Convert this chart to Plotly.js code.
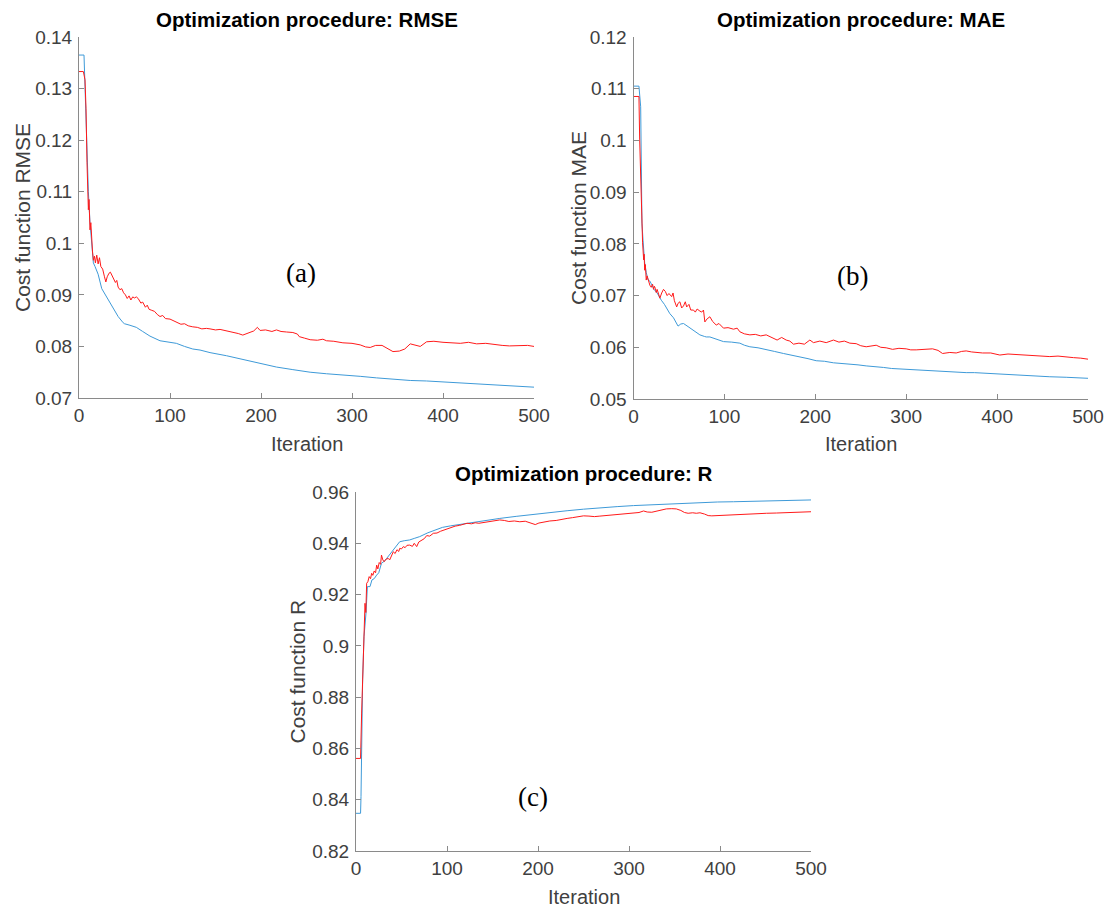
<!DOCTYPE html>
<html>
<head>
<meta charset="utf-8">
<script src="https://cdn.plot.ly/plotly-3.0.1.min.js"></script>
<style>html,body{margin:0;padding:0;background:#fff}#chart{width:1110px;height:908px}</style>
</head>
<body>
<div id="chart"></div>
<script>
// ---------- DATA ----------
// (a) RMSE
const rmseBlueIter = [0,5.5,6.6,7.7,8.8,10.3,12.1,13.9,15.8,17.6,21,25,29,33,38,43,48.5,50,56,63,70,78,89,100,107,116,125,133,144,162,180,199,217,235,254,272,290,309,327,345,364,382,400,419,437,455,477,500];
const rmseBlue = [0.1365,0.1365,0.1304,0.124,0.117,0.110,0.104,0.100,0.0962,0.0955,0.0940,0.0912,0.0900,0.0890,0.0873,0.0858,0.0846,0.0844,0.0841,0.0837,0.0829,0.0820,0.0811,0.0808,0.0806,0.0800,0.0795,0.0793,0.0788,0.0782,0.0775,0.0767,0.0760,0.0755,0.0750,0.0747,0.0745,0.0742,0.0739,0.0736,0.0734,0.0733,0.0731,0.0729,0.0727,0.0725,0.0723,0.0721];
const rmseRedIter = [0,4.8,6.6,7.7,8.8,9.5,10.3,11,11.6,12.1,13,13.9,14.8,15.8,17,18,19.5,21,22.5,24,26,28,29.5,31,33,34.5,36,38,40,41.5,43,45,47,49,51,53,55,57,59,61,63,65,68,70,73,75,77,80,83,86,89,92,95,100,104,107,112,116,120,125,130,135,140,144,150,155,162,170,175,180,186,192,196,199,205,212,217,222,228,235,240,242,248,254,262,268,272,280,290,300,309,315,320,326,333,338,345,352,358,364,370,375,382,390,400,410,419,428,437,447,455,465,473,485,493,500];
const rmseRed = [0.1333,0.1333,0.1317,0.1262,0.1156,0.112,0.1065,0.1085,0.1040,0.1026,0.1040,0.1000,0.0985,0.0967,0.0975,0.0962,0.0977,0.0960,0.0972,0.0955,0.0950,0.0935,0.0925,0.0935,0.0942,0.0944,0.0938,0.0933,0.0924,0.0928,0.0915,0.0910,0.0912,0.0904,0.0900,0.0893,0.0898,0.0890,0.0896,0.0894,0.0896,0.0893,0.0884,0.0886,0.0876,0.0880,0.0872,0.0870,0.0868,0.0862,0.0858,0.0860,0.0854,0.0853,0.0850,0.0848,0.0843,0.0844,0.0840,0.0838,0.0837,0.0834,0.0835,0.0834,0.0832,0.0833,0.0830,0.0828,0.0825,0.0822,0.0826,0.0830,0.0837,0.0831,0.0832,0.0829,0.0832,0.0829,0.0828,0.0827,0.0824,0.0819,0.0816,0.0813,0.0812,0.0814,0.0811,0.0810,0.0807,0.0806,0.0803,0.0799,0.0798,0.0802,0.0802,0.0797,0.0790,0.0791,0.0795,0.0805,0.0803,0.0800,0.0809,0.0810,0.0808,0.0807,0.0806,0.0808,0.0805,0.0806,0.0804,0.0802,0.0801,0.0801,0.0802,0.0800];

// (b) MAE
const maeBlueIter = [0,6,7.9,8.6,9.3,10.5,11.2,12.3,14,16,18,20,23,26,29,30.6,34,38,40,44,47.5,49,52,55,60,66,70,73,78,80,84,90,99,108,117,122,128,137,146,155,165,174,183,192,201,210,220,229,238,247,256,266,275,284,293,302,311,320,329,338,348,357,366,375,384,393,403,420,439,458,476,488,500];
const maeBlue = [0.1105,0.1105,0.1065,0.0923,0.0840,0.0807,0.0788,0.0763,0.0745,0.0730,0.0728,0.0722,0.0711,0.0705,0.0695,0.0691,0.0683,0.0672,0.0665,0.0657,0.0645,0.0641,0.0645,0.0646,0.0640,0.0633,0.0628,0.0624,0.0621,0.0620,0.0620,0.0616,0.0611,0.0610,0.0608,0.0604,0.0601,0.0599,0.0596,0.0592,0.0588,0.0585,0.0581,0.0578,0.0574,0.0573,0.0570,0.0569,0.0568,0.0566,0.0564,0.0563,0.0561,0.0559,0.0558,0.0557,0.0556,0.0556,0.0555,0.0554,0.0553,0.0552,0.0551,0.0551,0.0550,0.0550,0.0549,0.0547,0.0545,0.0543,0.0542,0.0541,0.0540];
const maeRedIter = [0,6,6.8,7.3,7.6,8,8.6,9,9.3,10,10.5,11.2,11.7,12.3,13,14,15,16,17,18,19.5,21,22,23,24,25,26,27,29,31,33,35,37,39,42,43.5,45,47.5,49,51,53,55,57,58.5,61,63,66,68,70,73,75,77,78.5,81,84,87,91,94,99,104,110,114,117,122,128,134,140,146,150,154,158,163,168,172,176,182,188,194,198,205,212,220,226,232,238,245,250,256,262,267,272,278,285,292,300,305,311,318,325,329,335,340,348,355,361,366,372,378,384,393,403,412,421,430,439,448,458,467,476,484,492,500];
const maeRed = [0.1085,0.1085,0.1001,0.0962,0.0990,0.0965,0.0918,0.0846,0.0814,0.0802,0.0788,0.0769,0.0780,0.0749,0.0760,0.0730,0.0738,0.0730,0.0722,0.0720,0.0716,0.0722,0.0712,0.0718,0.0714,0.0706,0.0712,0.0705,0.0695,0.0705,0.0712,0.0708,0.0700,0.0704,0.0698,0.0705,0.0690,0.0678,0.0685,0.0688,0.0676,0.0680,0.0688,0.0678,0.0683,0.0672,0.0672,0.0668,0.0674,0.0670,0.0668,0.0672,0.0649,0.0655,0.0659,0.0650,0.0643,0.0646,0.0637,0.0638,0.0635,0.0637,0.0630,0.0626,0.0624,0.0625,0.0622,0.0624,0.0621,0.0618,0.0614,0.0619,0.0614,0.0612,0.0606,0.0608,0.0606,0.0614,0.0609,0.0612,0.0609,0.0614,0.0610,0.0612,0.0608,0.0607,0.0603,0.0601,0.0602,0.0604,0.0600,0.0599,0.0596,0.0598,0.0597,0.0595,0.0595,0.0596,0.0597,0.0597,0.0594,0.0588,0.0590,0.0589,0.0592,0.0593,0.0591,0.0590,0.0589,0.0589,0.0585,0.0587,0.0586,0.0586,0.0585,0.0584,0.0582,0.0583,0.0581,0.0580,0.0579,0.0577];

// (c) R
const rBlueIter = [0,5,5.5,7.3,8.8,11,12.5,15.4,17.5,20,22.7,25,28,31,33.7,37,41,45,48,53,59,64,70,79,85,95,104,113,122,140,158,176,195,213,232,250,268,287,305,323,341,360,378,397,415,433,451,470,485,500];
const rBlue = [0.8347,0.8347,0.8412,0.8867,0.9036,0.9128,0.9231,0.9231,0.9257,0.9262,0.9276,0.9285,0.9322,0.9330,0.9341,0.9355,0.9374,0.9392,0.9406,0.9410,0.9413,0.9419,0.9426,0.9441,0.9450,0.9462,0.9468,0.9473,0.9478,0.9488,0.9497,0.9505,0.9513,0.9520,0.9527,0.9533,0.9539,0.9543,0.9547,0.9550,0.9553,0.9557,0.9560,0.9561,0.9562,0.9564,0.9566,0.9567,0.9568,0.9569];
const rRedIter = [0,5,6.2,7,8,8.8,9.9,10.8,11.7,13,14.5,16,17.2,18.5,20,21.5,22.7,24,25.5,27,28,29.5,31,33,35.5,37,39,41,43,45,47,48,50,52,54,56,59,62,64,66.7,69,72,75,77.7,81,85,89,93,97,101,105,109,114,118,122,127,131,135,140,146,152,158,163,168,174,180,186,192,195,197,201,207,213,220,226,232,238,244,250,256,262,268,275,281,287,293,299,305,311,316,320,325,330,336,341,347,352,357,361,365,370,374,378,383,387,391,397,403,409,415,425,433,442,451,462,472,480,490,500];
const rRed = [0.8561,0.8561,0.8738,0.8850,0.8972,0.9090,0.9166,0.9130,0.9244,0.9250,0.9270,0.9262,0.9283,0.9275,0.9292,0.9285,0.9315,0.9300,0.9325,0.9318,0.9354,0.9335,0.9328,0.9338,0.9341,0.9335,0.9352,0.9367,0.9360,0.9375,0.9368,0.9380,0.9378,0.9387,0.9383,0.9392,0.9393,0.9388,0.9400,0.9387,0.9405,0.9413,0.9418,0.9430,0.9428,0.9439,0.9440,0.9447,0.9452,0.9456,0.9460,0.9467,0.9470,0.9474,0.9478,0.9476,0.9480,0.9478,0.9481,0.9484,0.9486,0.9491,0.9489,0.9485,0.9487,0.9484,0.9486,0.9480,0.9478,0.9473,0.9479,0.9484,0.9487,0.9489,0.9494,0.9497,0.9500,0.9504,0.9507,0.9506,0.9504,0.9506,0.9508,0.9511,0.9513,0.9512,0.9515,0.9517,0.9520,0.9526,0.9522,0.9521,0.9525,0.9530,0.9534,0.9535,0.9534,0.9528,0.9520,0.9517,0.9519,0.9517,0.9519,0.9514,0.9508,0.9507,0.9508,0.9510,0.9511,0.9513,0.9514,0.9515,0.9516,0.9517,0.9518,0.9519,0.9520,0.9521,0.9523];

// tick labels
const xTickVals = [0,100,200,300,400,500];
const xTickText = ['0','100','200','300','400','500'];
const rmseTickVals = [0.07,0.08,0.09,0.10,0.11,0.12,0.13,0.14];
const rmseTickText = ['0.07','0.08','0.09','0.1','0.11','0.12','0.13','0.14'];
const maeTickVals = [0.05,0.06,0.07,0.08,0.09,0.10,0.11,0.12];
const maeTickText = ['0.05','0.06','0.07','0.08','0.09','0.1','0.11','0.12'];
const rTickVals = [0.82,0.84,0.86,0.88,0.90,0.92,0.94,0.96];
const rTickText = ['0.82','0.84','0.86','0.88','0.9','0.92','0.94','0.96'];

const titles = ['Optimization procedure: RMSE','Optimization procedure: MAE','Optimization procedure: R'];
const yTitles = ['Cost function RMSE','Cost function MAE','Cost function R'];
const xTitle = 'Iteration';
const panelLabels = ['(a)','(b)','(c)'];

// ---------- LAYOUT ----------
const W = 1110, H = 908;
const BLUE = '#3e9ad8', RED = '#ff1a1a';
const px = v => v / W, py = v => 1 - v / H;

function trace(x, y, color, xa, ya) {
  return {x: x, y: y, type: 'scatter', mode: 'lines', xaxis: xa, yaxis: ya,
          line: {color: color, width: 1}, hoverinfo: 'skip'};
}
const data = [
  trace(rmseBlueIter, rmseBlue, BLUE, 'x', 'y'),
  trace(rmseRedIter, rmseRed, RED, 'x', 'y'),
  trace(maeBlueIter, maeBlue, BLUE, 'x2', 'y2'),
  trace(maeRedIter, maeRed, RED, 'x2', 'y2'),
  trace(rBlueIter, rBlue, BLUE, 'x3', 'y3'),
  trace(rRedIter, rRed, RED, 'x3', 'y3')
];

const axCommon = {
  showline: true, linecolor: '#8a8a8a', linewidth: 1, mirror: false,
  ticks: 'inside', ticklen: 5, tickcolor: '#8a8a8a', tickwidth: 1,
  showgrid: false, zeroline: false, fixedrange: true,
  tickfont: {family: 'Liberation Sans, Arial, sans-serif', size: 19, color: '#404040'}
};
function xax(d0, d1, anchor) {
  return Object.assign({}, axCommon, {domain: [px(d0), px(d1)], range: [0, 500], anchor: anchor,
    tickmode: 'array', tickvals: xTickVals, ticktext: xTickText});
}
function yax(top, bot, range, tv, tt, anchor) {
  return Object.assign({}, axCommon, {domain: [py(bot), py(top)], range: range, anchor: anchor,
    tickmode: 'array', tickvals: tv, ticktext: tt, ticklabelstandoff: 2});
}

const fTitle = {family: 'Liberation Sans, Arial, sans-serif', size: 20.5, color: '#000000', weight: 'bold'};
const fAxis = {family: 'Liberation Sans, Arial, sans-serif', size: 20, color: '#404040'};
const fAxisY = {family: 'Liberation Sans, Arial, sans-serif', size: 21, color: '#404040'};
const fPanel = {family: 'Liberation Serif, Times New Roman, serif', size: 27, color: '#000000'};

function ann(text, x, y, font, extra) {
  return Object.assign({text: text, x: x, y: y, xref: 'paper', yref: 'paper', showarrow: false,
    xanchor: 'center', yanchor: 'middle', font: font}, extra || {});
}
function dann(text, x, y, xr, yr, font) {
  return {text: text, x: x, y: y, xref: xr, yref: yr, showarrow: false,
    xanchor: 'center', yanchor: 'middle', font: font};
}

const annotations = [
  ann(titles[0], px(306.5), py(20), fTitle),
  ann(titles[1], px(860.5), py(20), fTitle),
  ann(titles[2], px(583.5), py(474), fTitle),
  ann(xTitle, px(306.5), py(444), fAxis),
  ann(xTitle, px(860.5), py(444), fAxis),
  ann(xTitle, px(583.5), py(897), fAxis),
  ann(yTitles[0], px(22.5), py(217.5), fAxisY, {textangle: -90}),
  ann(yTitles[1], px(579), py(218), fAxisY, {textangle: -90}),
  ann(yTitles[2], px(297), py(671.5), fAxisY, {textangle: -90}),
  dann(panelLabels[0], 244, 0.0942, 'x', 'y', fPanel),
  dann(panelLabels[1], 241, 0.0738, 'x2', 'y2', fPanel),
  dann(panelLabels[2], 194.5, 0.841, 'x3', 'y3', fPanel)
];

const layout = {
  width: W, height: H, margin: {l: 0, r: 0, t: 0, b: 0},
  paper_bgcolor: '#ffffff', plot_bgcolor: '#ffffff', showlegend: false,
  xaxis: xax(79, 534, 'y'),
  yaxis: yax(37, 398, [0.07, 0.14], rmseTickVals, rmseTickText, 'x'),
  xaxis2: xax(633.5, 1088, 'y2'),
  yaxis2: yax(37, 399, [0.05, 0.12], maeTickVals, maeTickText, 'x2'),
  xaxis3: xax(356, 811, 'y3'),
  yaxis3: yax(492, 851, [0.82, 0.96], rTickVals, rTickText, 'x3'),
  annotations: annotations
};

Plotly.newPlot('chart', data, layout, {displayModeBar: false, staticPlot: true});
</script>
</body>
</html>
